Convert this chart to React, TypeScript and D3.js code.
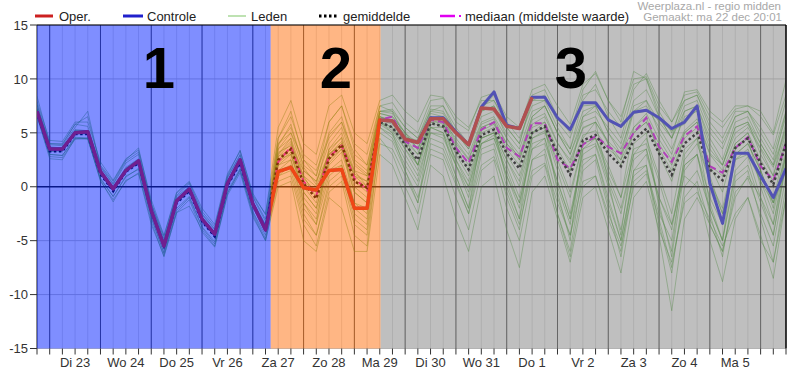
import * as d3 from 'd3';

// 6-hourly steps, step 0 = ma 22 18:00, step 59 = di 6 12:00
const dayLabels = ['Di 23', 'Wo 24', 'Do 25', 'Vr 26', 'Za 27', 'Zo 28', 'Ma 29', 'Di 30', 'Wo 31', 'Do 1', 'Vr 2', 'Za 3', 'Zo 4', 'Ma 5'];
const yTicks = [-15, -10, -5, 0, 5, 10, 15];

const operValues = [
  7.0, 3.5, 3.5, 5.0, 5.1, 1.4, -0.2, 1.5, 2.4, -2.2, -5.5, -1.3, -0.2, -3.0, -4.4, 0.3, 2.5, -1.6, -4.0,
  1.4, 1.8, -0.1, -0.3, 1.5, 1.6, -2.0, -2.0,
  6.2, 6.1, 4.4, 4.1, 6.3, 6.3, 5.0, 3.9, 7.3, 7.2, 5.6, 5.4, 8.3,
];
const controlValues = [
  7.0, 3.5, 3.5, 5.0, 5.1, 1.4, -0.2, 1.5, 2.4, -2.2, -5.5, -1.3, -0.2, -3.0, -4.4, 0.3, 2.5, -1.6, -4.0,
  1.4, 1.8, -0.1, -0.3, 1.5, 1.6, -2.0, -2.0,
  6.2, 6.1, 4.4, 4.1, 6.4, 6.4, 5.1, 3.9, 7.4, 8.8, 5.7, 5.4, 8.3, 8.3, 6.4, 5.3, 7.8, 7.8, 6.2, 5.6,
  6.9, 7.1, 6.4, 5.4, 6.0, 7.5, 0.3, -3.4, 3.1, 3.1, 1.0, -1.0, 1.7,
];
const meanValues = [
  6.9, 3.3, 3.3, 4.9, 4.9, 1.2, -0.4, 1.4, 2.2, -2.3, -5.5, -1.5, -0.4, -3.2, -4.6, 0.1, 2.2, -1.7, -3.9,
  2.5, 3.5, 0.3, -1.1, 2.6, 3.9, 0.5, -0.1,
  6.0, 5.5, 3.9, 2.5, 5.9, 5.6, 3.3, 1.6, 4.8, 5.3, 3.1, 1.7, 5.0, 5.6, 3.1, 1.1, 4.3, 4.8, 3.1, 1.9,
  4.3, 5.4, 3.1, 1.1, 4.0, 5.0, 1.6, 0.6, 3.6, 4.5, 2.2, 0.2, 4.0,
];
const medianValues = [
  7.0, 3.4, 3.4, 5.0, 5.0, 1.3, -0.3, 1.5, 2.3, -2.2, -5.4, -1.4, -0.3, -3.1, -4.5, 0.2, 2.3, -1.6, -3.8,
  2.3, 3.7, 0.5, -0.8, 2.8, 3.8, 0.8, -0.3,
  6.2, 6.5, 4.2, 3.6, 6.2, 6.0, 3.6, 2.2, 5.3, 6.0, 3.6, 2.8, 5.9, 5.9, 2.5, 1.7, 3.9, 4.7, 3.7, 3.1,
  5.0, 6.4, 3.7, 2.3, 4.7, 5.6, 1.9, 1.3, 3.6, 4.6, 1.9, 0.6, 4.0,
];

const members = [
  [7.2,3.6,3.5,5.2,5.1,1.5,-0.1,1.7,2.5,-2.0,-5.2,-1.2,-0.2,-2.9,-4.3,0.4,2.5,-1.4,-3.6, 3.0,4.2,0.8,-0.5,3.2,4.6,1.2,0.5, 6.5,6.2,4.8,3.4,6.8,6.5,4.2,2.6,5.8,6.3,4.0,2.8,6.2,6.8,4.1,2.2,5.4,6.0,4.2,3.0,5.5,6.8,4.4,2.5,5.2,6.3,3.1,2.0,5.0,5.8,3.6,1.8,5.2],
  [6.6,3.0,2.9,4.6,4.5,0.7,-0.9,0.9,1.7,-2.8,-6.2,-2.2,-1.0,-3.8,-5.3,-0.6,1.5,-2.4,-4.8, 1.0,2.0,-2.5,-4.5,0.5,1.5,-3.0,-4.0, 5.0,4.2,1.5,-1.0,3.5,3.0,0.2,-2.5,2.0,2.8,-0.5,-3.5,1.5,2.2,-1.5,-4.5,0.5,1.0,-2.5,-5.5,0.0,1.2,-3.0,-7.5,-1.0,0.5,-3.5,-6.0,-0.5,0.8,-2.5,-5.5,1.0],
  [7.9,4.3,4.2,6.0,6.0,2.3,0.6,2.6,3.4,-1.2,-4.5,-0.5,0.5,-2.0,-3.5,1.2,3.3,-0.6,-2.6, 4.5,6.5,3.0,2.0,6.0,7.5,4.0,3.0, 7.5,7.8,6.0,5.0,8.0,8.2,6.0,5.2,8.3,8.7,6.5,5.5,9.0,9.5,7.5,5.8,9.5,10.5,8.0,6.5,10.0,10.2,7.5,6.0,8.5,8.8,6.5,5.5,7.2,7.5,6.5,4.8,8.5],
  [7.0,3.3,3.4,4.9,5.1,1.2,-0.4,1.4,2.2,-2.3,-5.6,-1.5,-0.4,-3.2,-4.6,0.1,2.2,-1.8,-4.0, 2.0,3.0,-1.0,-2.5,2.0,3.2,-0.5,-1.5, 5.8,5.0,3.0,1.0,5.0,4.5,2.0,-0.5,4.0,4.8,2.0,-1.0,4.5,5.2,1.5,-2.5,3.0,3.8,0.0,-4.0,2.5,3.5,-1.5,-6.5,1.5,3.0,-2.0,-5.0,1.5,2.8,-1.0,-4.5,2.5],
  [6.9,3.5,3.3,5.1,5.0,1.4,-0.2,1.6,2.4,-2.1,-5.3,-1.3,-0.1,-3.0,-4.4,0.3,2.4,-1.5,-3.7, 3.5,5.0,1.5,0.5,4.0,5.5,2.0,1.0, 6.8,6.5,5.0,4.0,7.2,7.0,5.0,3.5,7.0,7.5,5.5,4.0,8.0,8.5,6.0,4.5,8.5,9.0,7.0,5.5,9.5,10.0,7.0,5.0,8.0,8.5,5.5,4.0,6.5,7.0,5.0,3.0,7.0],
  [7.1,3.4,3.6,5.0,4.9,1.3,-0.3,1.5,2.3,-2.2,-5.5,-1.4,-0.3,-3.1,-4.5,0.2,2.3,-1.6,-3.8, 2.5,3.5,0.0,-1.5,2.5,3.5,0.0,-1.0, 6.0,5.2,3.5,1.5,5.5,5.0,2.5,0.0,4.0,4.5,1.5,-1.5,3.5,4.0,0.5,-3.0,2.5,3.0,-1.0,-5.0,1.5,2.0,-4.5,-11.5,-3.0,-1.0,-3.5,-6.0,-1.0,1.0,-1.0,-3.5,2.0],
  [7.3,3.7,3.6,5.3,5.2,1.6,0.0,1.8,2.6,-1.9,-5.1,-1.1,0.0,-2.8,-4.2,0.5,2.6,-1.3,-3.5, 4.0,5.5,2.0,1.0,5.0,6.5,2.5,1.5, 7.0,7.0,5.5,4.5,7.5,7.5,5.0,4.0,7.5,8.0,5.5,4.0,8.5,9.0,6.5,5.0,9.0,10.7,8.0,6.0,10.7,10.0,6.5,4.5,7.0,7.5,4.0,2.0,5.5,6.0,3.0,1.0,6.0],
  [6.5,2.8,2.7,4.4,4.5,0.5,-1.2,0.5,1.3,-3.2,-6.5,-2.4,-1.2,-4.2,-5.6,-0.8,1.3,-2.8,-5.0, 0.5,1.0,-3.5,-5.5,-0.5,0.5,-4.5,-5.5, 4.5,3.0,0.0,-2.5,3.0,2.5,-1.0,-4.0,1.5,2.5,-2.0,-5.0,1.0,2.0,-2.5,-6.5,0.0,1.0,-3.0,-6.0,1.5,3.0,-1.0,-4.0,2.5,4.0,0.5,-2.5,3.0,4.0,1.5,-1.5,4.5],
  [7.0,3.5,3.4,5.0,5.0,1.3,-0.3,1.5,2.3,-2.2,-5.4,-1.4,-0.3,-3.1,-4.5,0.2,2.3,-1.6,-3.8, 2.8,4.0,0.5,-0.5,3.0,4.2,1.0,0.0, 6.2,5.8,4.2,3.0,6.2,5.8,3.8,2.0,5.2,5.8,3.5,2.0,5.5,6.0,3.5,1.5,4.8,5.2,3.5,2.5,5.0,6.0,3.5,1.5,4.5,5.5,2.0,1.0,4.0,5.0,2.5,0.5,4.5],
  [7.2,3.5,3.5,5.1,5.2,1.4,-0.2,1.6,2.4,-2.1,-5.3,-1.3,-0.2,-3.0,-4.4,0.3,2.4,-1.5,-3.7, 2.0,2.5,-1.5,-3.0,1.5,2.5,-1.5,-2.5, 5.5,4.8,2.5,0.5,5.0,4.8,2.0,0.0,4.5,5.0,2.5,0.5,5.0,5.5,2.0,-1.0,4.0,4.5,1.0,-2.0,3.0,3.5,-1.0,-3.5,1.0,0.0,-5.0,-8.8,-3.0,-1.0,-4.5,-8.5,-1.0],
  [7.1,3.6,3.5,5.1,5.1,1.4,-0.2,1.6,2.4,-2.1,-5.4,-1.3,-0.2,-3.0,-4.4,0.3,2.4,-1.5,-3.9, 1.5,2.0,0.0,-0.5,1.5,2.0,-1.5,-2.0, 6.3,6.2,4.6,4.3,6.4,6.5,5.0,3.8,7.2,8.5,5.8,5.3,8.0,8.0,6.5,5.2,7.5,7.6,6.2,5.5,6.8,7.0,6.2,5.2,5.8,7.2,1.0,-2.5,2.5,3.0,0.5,-1.5,1.5],
  [6.9,3.3,3.3,4.9,4.9,1.2,-0.4,1.4,2.2,-2.3,-5.5,-1.5,-0.4,-3.2,-4.6,0.1,2.2,-1.7,-3.9, 3.5,4.5,1.0,-1.0,3.5,5.0,1.5,0.0, 6.5,6.0,4.0,2.0,6.0,5.5,2.5,0.5,4.5,5.0,1.0,-1.5,4.0,4.5,0.5,-3.0,3.5,4.5,1.5,-1.0,5.5,6.5,3.0,0.5,5.0,6.0,2.0,-0.5,4.0,5.0,1.5,-2.0,3.5],
  [8.4,4.0,4.0,5.8,6.5,2.0,0.5,2.5,3.6,-1.5,-4.6,-0.6,0.4,-2.3,-3.7,1.0,3.4,-0.8,-2.5, 5.5,8.0,4.0,3.0,7.5,8.5,5.0,4.0, 8.0,8.5,7.0,6.0,8.5,8.3,6.5,5.5,8.0,8.0,6.0,4.5,7.5,8.0,5.5,3.5,7.0,7.5,5.0,3.0,7.5,8.0,5.0,3.0,7.0,7.5,4.5,2.5,6.0,6.5,4.0,2.0,7.0],
  [6.6,2.6,2.5,4.5,4.4,0.6,-1.4,0.6,1.2,-3.5,-6.4,-2.4,-1.8,-4.0,-5.5,-0.6,1.6,-2.6,-5.0, 0.0,0.5,-5.0,-6.0,-1.0,-2.0,-6.0,-6.0, 3.0,2.0,-1.0,-4.0,2.0,1.0,-3.0,-6.0,0.0,1.0,-4.0,-7.5,-0.5,1.0,-3.0,-7.0,-1.0,0.0,-4.0,-8.0,-1.0,0.5,-4.0,-7.0,-1.5,-0.5,-3.0,-5.5,-2.5,-1.0,-5.0,-7.0,-1.0],
  [7.0,3.4,3.5,5.0,5.0,1.3,-0.3,1.5,2.3,-2.2,-5.4,-1.4,-0.3,-3.1,-4.5,0.2,2.3,-1.6,-3.8, 2.5,3.0,-0.5,-2.0,2.5,3.8,-0.5,-1.5, 6.0,5.5,3.5,2.0,6.0,6.0,3.5,1.5,5.5,6.0,3.0,1.0,5.0,6.0,3.0,1.5,6.5,7.5,5.0,3.5,7.0,8.0,6.0,4.5,8.8,9.0,7.0,6.0,7.5,7.5,7.0,5.0,9.9],
  [7.6,4.0,3.9,5.8,5.6,1.9,0.3,2.4,3.2,-1.6,-4.8,-0.8,0.3,-2.5,-3.9,0.9,3.0,-0.9,-3.0, 3.0,4.5,-1.5,-3.5,3.5,4.5,-2.0,-3.0, 6.0,5.0,1.5,-1.5,5.5,5.0,1.0,-2.0,5.0,5.5,0.5,-3.0,5.0,5.5,-0.5,-5.0,4.5,6.0,0.5,-4.5,4.0,5.0,-2.0,-6.0,3.0,4.5,-1.5,-5.0,3.5,4.5,0.0,-3.5,3.0],
  [7.1,3.5,3.5,5.0,5.1,1.3,-0.3,1.5,2.3,-2.2,-5.4,-1.4,-0.3,-3.1,-4.5,0.2,2.3,-1.6,-3.8, 4.0,5.0,2.5,1.5,4.5,6.0,3.0,2.0, 7.0,7.2,5.5,4.5,7.0,6.8,5.0,3.5,6.5,7.0,5.0,3.5,7.0,7.5,5.0,3.0,6.5,7.0,5.5,4.0,8.0,9.0,6.5,4.5,7.5,8.0,5.0,3.5,6.5,7.0,4.5,2.5,6.5],
  [6.9,3.3,3.4,4.9,5.0,1.2,-0.4,1.4,2.2,-2.3,-5.5,-1.5,-0.4,-3.2,-4.6,0.1,2.2,-1.7,-3.9, 1.5,2.5,-2.0,-3.5,1.0,2.0,-2.5,-3.5, 5.5,4.5,2.0,0.0,4.5,4.0,1.0,-2.0,3.5,4.0,0.0,-3.0,2.5,3.0,-2.5,-6.0,1.5,2.5,-2.0,-6.5,0.5,1.5,-2.5,-5.0,2.0,3.0,-1.0,-3.5,2.5,3.5,0.5,-2.5,3.0],
  [7.2,3.6,3.6,5.2,5.2,1.5,-0.1,1.7,2.5,-2.0,-5.2,-1.2,-0.1,-2.9,-4.3,0.4,2.5,-1.4,-3.6, 3.2,3.8,1.5,0.5,3.0,4.0,1.5,1.0, 6.8,6.5,5.0,3.5,6.5,6.0,4.5,3.0,6.0,6.5,4.5,3.0,6.5,7.5,5.0,3.0,6.0,6.5,4.0,2.5,7.0,7.5,5.5,3.5,6.5,7.0,3.5,2.0,5.5,6.0,4.0,2.0,5.5],
  [7.0,3.4,3.4,5.0,5.0,1.3,-0.3,1.5,2.3,-2.2,-5.4,-1.4,-0.3,-3.1,-4.5,0.2,2.3,-1.6,-3.8, 2.2,3.2,-0.5,-2.0,2.2,3.5,0.5,-0.5, 6.0,5.5,4.0,2.0,5.5,5.5,3.0,1.0,4.5,5.0,2.5,0.0,4.5,5.0,2.5,-0.5,4.0,4.5,2.0,-1.0,3.5,4.0,0.5,-3.5,2.0,3.0,-2.5,-6.5,0.5,1.5,-3.0,-7.0,0.0],
  [7.1,3.4,3.5,5.0,5.0,1.3,-0.3,1.5,2.3,-2.2,-5.4,-1.4,-0.3,-3.1,-4.5,0.2,2.3,-1.6,-3.8, 3.8,5.8,1.8,0.2,4.8,6.0,2.2,1.2, 7.0,6.8,5.0,3.5,7.0,7.5,5.5,4.0,7.0,7.5,4.5,2.5,6.5,7.5,5.0,3.5,8.0,9.5,6.5,4.5,9.0,10.5,8.0,6.0,8.0,8.5,6.0,4.5,7.0,7.0,5.5,3.5,8.0],
  [6.6,3.0,2.9,4.5,4.5,0.8,-0.9,1.0,1.6,-2.9,-6.1,-2.0,-0.9,-3.7,-5.1,-0.4,1.7,-2.3,-4.5, 1.0,1.5,-3.0,-4.5,0.0,1.0,-3.5,-4.5, 4.0,3.5,1.0,-1.5,4.0,3.5,0.5,-2.5,3.0,3.5,-1.0,-4.0,2.5,3.5,-1.0,-4.5,2.0,3.0,-1.5,-5.0,1.0,2.0,-3.5,-8.0,0.0,1.5,-2.0,-5.0,1.0,2.0,-1.5,-4.5,2.0],
  [7.0,3.5,3.5,5.1,5.0,1.4,-0.2,1.6,2.4,-2.1,-5.3,-1.3,-0.2,-3.0,-4.4,0.3,2.4,-1.5,-3.7, 2.8,3.5,1.0,0.0,3.0,4.0,1.0,0.5, 6.5,6.0,4.5,3.0,6.5,6.2,4.0,2.5,5.5,6.0,4.0,2.5,5.8,6.5,4.0,2.5,5.5,6.0,4.0,2.0,5.0,6.0,4.0,2.0,5.0,6.0,3.0,1.5,4.5,5.5,3.5,1.0,5.0],
  [7.6,3.9,3.8,5.5,7.0,1.8,0.2,2.2,3.0,-1.6,-5.0,-0.9,0.0,-2.6,-4.0,0.8,2.9,-1.0,-3.2, 4.5,7.0,2.5,1.0,6.0,7.5,3.5,2.0, 7.5,7.0,4.5,2.0,6.5,6.0,2.0,-1.0,4.0,4.5,1.0,-2.0,3.5,4.5,0.0,-3.5,3.5,4.0,0.5,-2.5,3.0,4.5,1.0,-2.5,3.5,4.5,0.5,-2.0,3.0,4.0,1.5,-1.5,3.0],
];

// region boundaries in 6h steps
const regionBounds = [0, 18.41, 27.07, 59];
const regionFills = ['rgba(0,30,255,0.5)', 'rgba(255,110,10,0.5)', 'rgba(128,128,128,0.5)'];
const regionNames = ['1', '2', '3'];
const regionNameSteps = [9.6, 23.55, 42.06];

const W = 800;
const H = 388;
const FONT = "'Liberation Sans', Arial, sans-serif";

export default function App() {
  const x = d3.scaleLinear().domain([0, 59]).range([37, 786]);
  const y = d3.scaleLinear().domain([-15, 15]).range([348.5, 25]);
  const line = d3.line<number>().x((_, i) => x(i)).y(d => y(d));
  const steps = d3.range(0, 60);
  const dayStarts = d3.range(1, 60, 4);

  return (
    <svg width={W} height={H} style={{ position: 'absolute', left: 0, top: 0, background: '#fff' }} fontFamily={FONT}>
      <defs>
        <clipPath id="plot">
          <rect x={x(0)} y={y(15)} width={x(59) - x(0)} height={y(-15) - y(15)} />
        </clipPath>
      </defs>

      {/* grid */}
      {steps.map(i => (
        <line key={'m' + i} x1={x(i)} x2={x(i)} y1={y(15)} y2={y(-15)} stroke="#dedede" strokeWidth={1} />
      ))}
      {yTicks.filter(t => t !== 0).map(t => (
        <line key={'h' + t} x1={x(0)} x2={x(59)} y1={y(t)} y2={y(t)} stroke="#c4c4c4" strokeWidth={1} />
      ))}
      {dayStarts.map(i => (
        <line key={'d' + i} x1={x(i)} x2={x(i)} y1={y(15)} y2={y(-15)} stroke="#4a4a4a" strokeWidth={1} />
      ))}
      <line x1={x(0)} x2={x(0)} y1={y(15)} y2={y(-15)} stroke="#222" strokeWidth={1} />

      <g clipPath="url(#plot)" fill="none">
        {members.map((m, k) => (
          <path key={k} d={line(m) || ''} stroke="rgb(60,155,35)" strokeOpacity={0.45} strokeWidth={1} />
        ))}
        <line x1={x(0)} x2={x(59)} y1={y(0)} y2={y(0)} stroke="#111" strokeWidth={1.5} />
        <path d={line(medianValues) || ''} stroke="#e000f0" strokeWidth={2} strokeDasharray="7,4" />
        <path d={line(meanValues) || ''} stroke="#000" strokeWidth={2.5} strokeDasharray="2.5,2.5" />
        <path d={line(controlValues) || ''} stroke="#2424e8" strokeWidth={3} strokeLinejoin="round" />
        <path d={line(operValues) || ''} stroke="#e02020" strokeWidth={3.5} strokeLinejoin="round" />
      </g>

      {/* coloured periods */}
      {regionFills.map((f, k) => (
        <rect key={'r' + k} x={x(regionBounds[k])} y={y(15)} width={x(regionBounds[k + 1]) - x(regionBounds[k])}
          height={y(-15) - y(15)} fill={f} />
      ))}
      {regionNames.map((n, k) => (
        <text key={'n' + k} x={x(regionNameSteps[k])} y={88} textAnchor="middle" fontSize={58} fontWeight="bold" fill="#000">{n}</text>
      ))}

      {/* frame */}
      <line x1={x(0)} x2={x(59)} y1={y(15)} y2={y(15)} stroke="#000" strokeWidth={1.2} />
      <line x1={x(59)} x2={x(59)} y1={y(15)} y2={y(-15)} stroke="#000" strokeWidth={1.5} />

      {/* y axis */}
      {yTicks.map(t => (
        <g key={'yt' + t}>
          <line x1={30} x2={x(0)} y1={y(t)} y2={y(t)} stroke="#333" />
          <text x={28} y={y(t)} dy="0.36em" textAnchor="end" fontSize={13} fill="#333">{t}</text>
        </g>
      ))}

      {/* x axis */}
      {steps.map(i => (
        <line key={'xt' + i} x1={x(i)} x2={x(i)} y1={y(-15)} y2={y(-15) + 6} stroke="#333" />
      ))}
      {dayLabels.map((d, k) => (
        <text key={'xl' + k} x={x(3 + 4 * k)} y={367} textAnchor="middle" fontSize={13} fill="#333">{d}</text>
      ))}

      {/* legend */}
      <g fontSize={13} fill="#222">
        <line x1={35} x2={53} y1={16} y2={16} stroke="#cc2020" strokeWidth={3} />
        <text x={59} y={20.5}>Oper.</text>
        <line x1={123} x2={143} y1={16} y2={16} stroke="#2020cc" strokeWidth={3} />
        <text x={147} y={20.5}>Controle</text>
        <line x1={228} x2={246} y1={16} y2={16} stroke="#a8d898" strokeWidth={1.5} />
        <text x={251} y={20.5}>Leden</text>
        <line x1={319} x2={337} y1={16} y2={16} stroke="#000" strokeWidth={3} strokeDasharray="2.5,2.5" />
        <text x={343} y={20.5}>gemiddelde</text>
        <line x1={440} x2={455} y1={16} y2={16} stroke="#e000f0" strokeWidth={2.5} />
        <line x1={459} x2={461} y1={16} y2={16} stroke="#e000f0" strokeWidth={2} />
        <text x={465} y={20.5}>mediaan (middelste waarde)</text>
      </g>
      <g fontSize={11.5} fill="#a8a8a8" textAnchor="end">
        <text x={781} y={10}>Weerplaza.nl - regio midden</text>
        <text x={782} y={21}>Gemaakt: ma 22 dec 20:01</text>
      </g>
    </svg>
  );
}
